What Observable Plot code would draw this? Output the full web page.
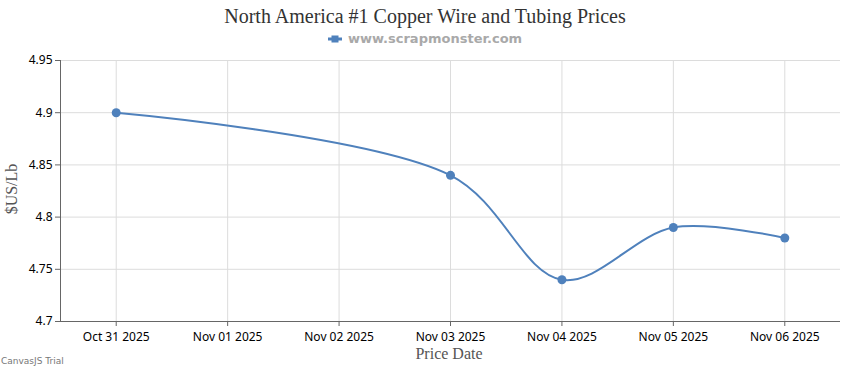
<!DOCTYPE html>
<html>
<head>
<meta charset="utf-8">
<script src="https://cdn.jsdelivr.net/npm/d3@7"></script>
<script src="https://cdn.jsdelivr.net/npm/@observablehq/plot@0.6"></script>
<style>
  body { margin: 0; background: #fff; width: 850px; height: 370px; position: relative; overflow: hidden; }
  #title { position: absolute; left: 0; top: 3px; width: 850px; text-align: center; font-family: "Liberation Serif", serif; font-size: 20px; color: #333; line-height: 26px; }
  #legend { position: absolute; left: 0; top: 31px; width: 850px; text-align: center; font-family: "DejaVu Sans", sans-serif; font-weight: bold; font-size: 13px; color: #a9a9a9; }
  #legend svg { vertical-align: middle; margin-right: 6px; position: relative; top: -1px; }
  #chart { position: absolute; left: 0; top: 50px; }
  #trial { position: absolute; left: 1px; top: 356px; font-family: "DejaVu Sans", sans-serif; font-size: 9px; color: #777; }
  .atitle { position: absolute; font-family: "Liberation Serif", serif; font-size: 16px; color: #555; white-space: nowrap; line-height: 16px; transform: translate(-50%, -50%); }
  #ytitle { left: 12px; top: 189px; transform: translate(-50%, -50%) rotate(-90deg); }
  #xtitle { left: 449px; top: 354px; }
</style>
</head>
<body>
<div id="title">North America #1 Copper Wire and Tubing Prices</div>
<div id="legend"><svg width="14" height="10"><line x1="0" y1="5" x2="14" y2="5" stroke="#4f81bc" stroke-width="3"/><rect x="3.5" y="1.5" width="7" height="7" fill="#4f81bc"/></svg>www.scrapmonster.com</div>
<div id="chart"></div>
<div id="ytitle" class="atitle">$US/Lb</div>
<div id="xtitle" class="atitle">Price Date</div>
<div id="trial">CanvasJS Trial</div>
<script>
const dates = ["2025-10-31", "2025-11-03", "2025-11-04", "2025-11-05", "2025-11-06"];
const prices = [4.90, 4.84, 4.74, 4.79, 4.78];
const tickDates = ["2025-10-31", "2025-11-01", "2025-11-02", "2025-11-03", "2025-11-04", "2025-11-05", "2025-11-06"];
const yTicks = [4.7, 4.75, 4.8, 4.85, 4.9, 4.95];

const data = dates.map((d, i) => ({date: new Date(d + "T00:00:00Z"), price: prices[i]}));
const ticks = tickDates.map(d => new Date(d + "T00:00:00Z"));
const fmt = d3.utcFormat("%b %d %Y");
const color = "#4f81bc";
const xDomain = [new Date("2025-10-30T12:00:00Z"), new Date("2025-11-06T12:00:00Z")];

const chart = Plot.plot({
  width: 850,
  height: 320,
  marginTop: 10,
  marginBottom: 49,
  marginLeft: 60,
  marginRight: 10,
  style: {fontFamily: "'Noto Sans', sans-serif", fontSize: "12px", color: "#000", background: "#fff"},
  x: {type: "utc", domain: xDomain},
  y: {domain: [4.7, 4.95]},
  marks: [
    Plot.gridY(yTicks, {stroke: "#dcdcdc", strokeOpacity: 1}),
    Plot.gridX(ticks, {stroke: "#dcdcdc", strokeOpacity: 1}),
    Plot.ruleY([4.7], {stroke: "#666", strokeWidth: 1}),
    Plot.ruleX([xDomain[0]], {stroke: "#666", strokeWidth: 1}),
    Plot.axisY(yTicks, {label: null, tickSize: 5, tickPadding: 3, stroke: "#666", fill: "#000", tickFormat: d => String(+d.toFixed(2))}),
    Plot.axisX(ticks, {label: null, tickSize: 5, tickPadding: 6, stroke: "#666", fill: "#000", tickFormat: fmt}),
    Plot.line(data, {x: "date", y: "price", curve: "catmull-rom", stroke: color, strokeWidth: 2}),
    Plot.dot(data, {x: "date", y: "price", r: 4.5, fill: color, stroke: "none"})
  ]
});
document.getElementById("chart").appendChild(chart);
</script>
</body>
</html>
